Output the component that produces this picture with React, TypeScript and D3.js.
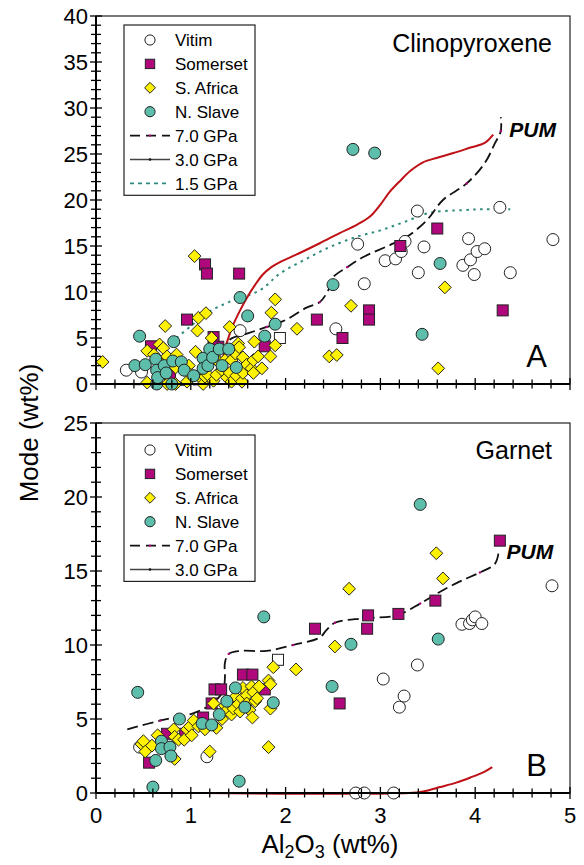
import React from "react";
import * as d3 from "d3";

type P = [number, number];

// ---------- Panel A: Clinopyroxene ----------
const cpxVitim: P[] = [
  [0.32, 1.5], [0.48, 1.3], [1.52, 5.8], [2.53, 6.0], [2.76, 15.2], [2.83, 10.9], [3.05, 13.4],
  [3.16, 13.6], [3.22, 14.4], [3.26, 15.5], [3.39, 18.8], [3.40, 12.1], [3.46, 14.9], [3.87, 12.9],
  [3.93, 15.8], [3.95, 13.5], [3.99, 11.9], [4.02, 14.4], [4.10, 14.7], [4.26, 19.2], [4.37, 12.1],
  [4.82, 15.7],
];
const cpxOpenSquare: P[] = [[1.94, 5.0]];
const cpxSomerset: P[] = [
  [0.58, 4.1], [0.78, 1.0], [0.96, 7.0], [1.15, 13.0], [1.17, 12.0], [1.24, 5.1], [1.29, 4.05],
  [1.51, 12.0], [1.78, 4.1], [2.33, 7.0], [2.60, 5.0], [2.88, 8.0], [2.88, 7.0], [3.21, 15.0],
  [3.60, 16.9], [4.29, 8.0],
];
const cpxSAfrica: P[] = [
  [0.07, 2.4], [0.54, 3.6], [0.54, 0.15], [0.61, 3.2], [0.67, 4.3], [0.71, 3.9], [0.73, 6.3],
  [0.75, 2.6], [0.75, 3.0], [0.75, 0], [0.84, 1.8], [0.84, 0], [0.85, 3.2], [0.96, 0.25], [0.98, 2.0],
  [1.0, 1.0], [1.05, 3.5], [1.07, 5.8], [1.08, 7.2], [1.11, 0.6], [1.13, 0], [1.15, 0.8], [1.16, 7.7],
  [1.18, 1.0], [1.22, 5.0], [1.24, 0.35], [1.25, 3.0], [1.27, 1.0], [1.30, 2.3], [1.33, 1.5],
  [1.36, 2.6], [1.38, 0.7], [1.41, 6.2], [1.41, 1.2], [1.43, 2.6], [1.43, 0.25], [1.47, 3.3],
  [1.48, 0.9], [1.50, 4.4], [1.51, 4.0], [1.54, 0.25], [1.55, 2.9], [1.55, 1.2], [1.59, 2.1],
  [1.64, 1.7], [1.66, 2.6], [1.66, 1.2], [1.67, 4.6], [1.71, 3.0], [1.75, 1.7], [1.84, 3.0],
  [1.85, 7.75], [1.89, 9.2], [1.89, 4.2], [2.12, 6.0], [2.46, 3.0], [2.54, 3.15], [2.69, 8.5],
  [3.61, 1.7], [3.68, 10.5], [1.04, 13.9],
];
const cpxNSlave: P[] = [
  [0.41, 2.0], [0.46, 5.2], [0.52, 2.1], [0.63, 2.7], [0.64, 1.5], [0.64, 0], [0.65, 0.7], [0.72, 2.0],
  [0.74, 1.2], [0.80, 0], [0.81, 2.5], [0.82, 4.6], [0.90, 2.4], [0.93, 1.5], [1.03, 0.9], [1.13, 2.8],
  [1.13, 1.7], [1.18, 2.0], [1.20, 3.8], [1.23, 2.9], [1.30, 3.8], [1.33, 2.0], [1.40, 3.8],
  [1.48, 1.8], [1.52, 9.4], [1.60, 7.4], [1.78, 5.2], [1.89, 6.5], [2.50, 10.8], [2.71, 25.5],
  [2.94, 25.1], [3.44, 5.4], [3.63, 13.1],
];
const cpx70: P[] = [
  [0.35, 0], [1.1, 0], [1.22, 0.4], [1.3, 2.0], [1.36, 4.0], [1.42, 4.9], [1.6, 5.5], [1.8, 6.2],
  [2.01, 7.0], [2.22, 8.3], [2.36, 8.9], [2.45, 10.2], [2.5, 11.6], [2.65, 12.7], [2.82, 13.8],
  [3.1, 15.1], [3.28, 16.0], [3.49, 17.8], [3.66, 20.0], [3.91, 21.8], [4.1, 24.0], [4.21, 26.2],
  [4.27, 27.5], [4.27, 29.0],
];
const cpx30: P[] = [
  [1.2, 0], [1.28, 0.8], [1.33, 2.5], [1.38, 4.5], [1.45, 6.5], [1.52, 8.0], [1.6, 9.5], [1.68, 10.8],
  [1.76, 11.9], [1.85, 12.7], [1.95, 13.3], [2.1, 14.0], [2.36, 15.3], [2.57, 16.4], [2.75, 17.3],
  [2.89, 18.2], [3.0, 19.5], [3.1, 20.9], [3.21, 22.1], [3.32, 23.2], [3.45, 24.1], [3.6, 24.6],
  [3.77, 25.1], [3.95, 25.7], [4.1, 26.2], [4.19, 27.1],
];
const cpx15: P[] = [
  [0.85, 5.0], [1.0, 6.3], [1.17, 7.7], [1.4, 8.9], [1.73, 10.2], [1.94, 12.0], [2.2, 13.5],
  [2.47, 14.9], [2.75, 16.0], [3.0, 16.7], [3.25, 17.6], [3.52, 18.6], [3.87, 18.9], [4.1, 19.0],
  [4.37, 19.0],
];

// ---------- Panel B: Garnet ----------
const grtVitim: P[] = [
  [1.17, 2.45], [0.46, 3.1], [2.74, 0], [2.83, 0], [3.14, 0], [3.03, 7.7], [3.20, 5.8], [3.25, 6.55],
  [3.39, 8.65], [3.86, 11.4], [3.94, 11.45], [3.97, 11.7], [4.0, 11.9], [4.07, 11.45], [4.81, 14.0],
];
const grtOpenSquare: P[] = [[1.92, 9.0]];
const grtSomerset: P[] = [
  [0.56, 2.05], [0.75, 4.0], [0.94, 4.0], [1.13, 5.1], [1.22, 6.05], [1.25, 7.0], [1.32, 7.0],
  [1.55, 8.0], [1.65, 8.0], [1.78, 7.0], [2.31, 11.1], [2.57, 6.05], [2.86, 11.1], [2.87, 12.0],
  [3.19, 12.1], [3.58, 13.0], [4.26, 17.05],
];
const grtSAfrica: P[] = [
  [0.48, 3.3], [0.50, 3.5], [0.52, 2.8], [0.59, 3.2], [0.65, 3.9], [0.82, 4.3], [0.83, 3.8],
  [0.83, 2.3], [0.87, 3.6], [0.93, 3.6], [0.96, 4.3], [0.99, 4.5], [1.01, 3.9], [1.03, 4.9],
  [1.08, 4.5], [1.15, 4.3], [1.20, 2.8], [1.24, 6.05], [1.27, 4.4], [1.33, 5.0], [1.36, 5.9],
  [1.38, 5.6], [1.43, 5.3], [1.45, 5.7], [1.47, 6.5], [1.50, 6.0], [1.52, 5.5], [1.54, 6.4],
  [1.55, 7.1], [1.59, 6.6], [1.59, 6.05], [1.62, 5.6], [1.64, 7.2], [1.65, 5.1], [1.66, 6.8],
  [1.68, 6.2], [1.70, 6.4], [1.72, 7.2], [1.82, 7.6], [1.82, 3.1], [1.84, 7.35], [1.84, 5.7],
  [1.87, 8.5], [2.11, 8.35], [2.52, 9.9], [2.67, 13.8], [3.59, 16.2], [3.66, 14.5],
];
const grtNSlave: P[] = [
  [0.44, 6.8], [0.60, 0.4], [0.63, 2.2], [0.69, 3.5], [0.69, 3.0], [0.78, 3.1], [0.79, 2.5],
  [0.88, 5.0], [1.12, 4.7], [1.22, 4.6], [1.30, 5.3], [1.38, 6.2], [1.47, 7.1], [1.51, 0.8],
  [1.57, 5.8], [1.77, 11.9], [1.87, 6.1], [2.49, 7.2], [2.69, 10.05], [3.42, 19.5], [3.61, 10.4],
];
const grt70: P[] = [
  [0.33, 4.3], [0.68, 4.9], [1.03, 5.4], [1.24, 6.1], [1.34, 6.9], [1.36, 7.8], [1.36, 8.8],
  [1.4, 9.4], [1.52, 9.6], [1.8, 9.6], [2.08, 10.0], [2.36, 10.5], [2.43, 11.0], [2.52, 11.5],
  [2.82, 11.8], [3.17, 12.0], [3.42, 12.8], [3.63, 13.6], [3.84, 14.3], [4.05, 14.9], [4.21, 15.5],
  [4.25, 16.4],
];
const grt30: P[] = [
  [1.13, 0], [3.3, 0], [3.45, 0.1], [3.63, 0.4], [3.8, 0.7], [3.95, 1.05], [4.1, 1.45], [4.18, 1.75],
];

const xTicks = [0, 1, 2, 3, 4, 5];
const cpxYTicks = [0, 5, 10, 15, 20, 25, 30, 35, 40];
const grtYTicks = [0, 5, 10, 15, 20, 25];
const legendLabelsA = ["Vitim", "Somerset", "S. Africa", "N. Slave", "7.0 GPa", "3.0 GPa", "1.5 GPa"];
const legendLabelsB = ["Vitim", "Somerset", "S. Africa", "N. Slave", "7.0 GPa", "3.0 GPa"];

const FONT = "'Liberation Sans', Arial, Helvetica, sans-serif";
const C_MAG = "#B0087C";
const C_YEL = "#FFF200";
const C_TEAL = "#5DBFAB";
const C_RED = "#BE1015";
const C_TEALLINE = "#2E8B7C";

function Marker({ kind, x, y, s = 1 }: { kind: string; x: number; y: number; s?: number }) {
  const st = { stroke: "#222", strokeWidth: 1 };
  if (kind === "circle") return <circle cx={x} cy={y} r={6 * s} fill="#fff" {...st} />;
  if (kind === "teal") return <circle cx={x} cy={y} r={6 * s} fill={C_TEAL} {...st} />;
  if (kind === "square") {
    const h = 5.5 * s;
    return <rect x={x - h} y={y - h} width={2 * h} height={2 * h} fill={C_MAG} {...st} />;
  }
  if (kind === "osquare") {
    const h = 5.5 * s;
    return <rect x={x - h} y={y - h} width={2 * h} height={2 * h} fill="#fff" {...st} />;
  }
  const d = 6.4 * s;
  return (
    <path d={`M${x},${y - d}L${x + d},${y}L${x},${y + d}L${x - d},${y}Z`} fill={C_YEL} {...st} />
  );
}

function Panel({
  top, bottom, yMax, yTicks, vitim, openSq, somerset, safrica, nslave, l70, l30, l15,
  title, letter, legend, legTop, pum, showXLabels,
}: any) {
  const x = d3.scaleLinear().domain([0, 5]).range([96, 570]);
  const y = d3.scaleLinear().domain([0, yMax]).range([bottom, top]);
  const line = d3
    .line<P>()
    .x((d) => x(d[0]))
    .y((d) => y(d[1]))
    .curve(d3.curveCatmullRom.alpha(0.5));
  const minorY = d3.range(0, yMax + 0.001, 1);
  const minorX = d3.range(0, 5.001, 0.2);
  const rowH = 23.9;
  const legX = 124;
  const legW = 131;
  const legH = legend.length * rowH + 3;
  return (
    <g>
      <rect x={96} y={top} width={474} height={bottom - top} fill="none" stroke="#222" strokeWidth={1.2} />
      {l15 && (
        <path d={line(l15) || ""} fill="none" stroke={C_TEALLINE} strokeWidth={2} strokeDasharray="2.5,4.5" />
      )}
      <path d={line(l30) || ""} fill="none" stroke={C_RED} strokeWidth={2} />
      <path d={line(l70) || ""} fill="none" stroke="#111" strokeWidth={1.8} strokeDasharray="11,5" />
      {l70.filter((_: P, i: number) => i % 3 === 1).map((d: P, i: number) => (
        <circle key={"m" + i} cx={x(d[0])} cy={y(d[1])} r={1.2} fill={C_MAG} />
      ))}
      {vitim.map((d: P, i: number) => <Marker key={"v" + i} kind="circle" x={x(d[0])} y={y(d[1])} />)}
      {openSq.map((d: P, i: number) => <Marker key={"o" + i} kind="osquare" x={x(d[0])} y={y(d[1])} />)}
      {somerset.map((d: P, i: number) => <Marker key={"s" + i} kind="square" x={x(d[0])} y={y(d[1])} />)}
      {safrica.map((d: P, i: number) => <Marker key={"a" + i} kind="diamond" x={x(d[0])} y={y(d[1])} />)}
      {nslave.map((d: P, i: number) => <Marker key={"n" + i} kind="teal" x={x(d[0])} y={y(d[1])} />)}
      <line x1={96} x2={96} y1={top} y2={bottom} stroke="#000" strokeWidth={2} />
      <line x1={96} x2={570} y1={bottom} y2={bottom} stroke="#000" strokeWidth={2} />
      {minorY.map((v: number) => {
        const major = v % 5 === 0;
        return (
          <line key={"yt" + v} x1={major ? 90 : 91} x2={major ? 102 : 101} y1={y(v)} y2={y(v)} stroke="#000" strokeWidth={1.3} />
        );
      })}
      {minorX.map((v: number, i: number) => {
        const major = i % 5 === 0;
        return (
          <line key={"xt" + i} x1={x(v)} x2={x(v)} y1={bottom - (major ? 6 : 4.5)} y2={bottom + (major ? 6 : 4.5)} stroke="#000" strokeWidth={1.3} />
        );
      })}
      {yTicks.map((v: number) => (
        <text key={"yl" + v} x={88} y={y(v)} dy="0.36em" textAnchor="end" fontSize={22} fontFamily={FONT} fill="#000">
          {v}
        </text>
      ))}
      {showXLabels &&
        xTicks.map((v: number) => (
          <text key={"xl" + v} x={x(v)} y={bottom + 30} textAnchor="middle" fontSize={22} fontFamily={FONT} fill="#000">
            {v}
          </text>
        ))}
      <text x={552} y={top + 36} textAnchor="end" fontSize={25} fontFamily={FONT} fill="#000">{title}</text>
      <text x={547} y={bottom - 17} textAnchor="end" fontSize={31} fontFamily={FONT} fill="#000">{letter}</text>
      <text x={x(pum[0])} y={y(pum[1])} fontSize={21} fontWeight="bold" fontStyle="italic" fontFamily={FONT} fill="#000">PUM</text>
      <rect x={legX} y={legTop} width={legW} height={legH} fill="#fff" stroke="#222" strokeWidth={1.2} />
      {legend.map((lab: string, i: number) => {
        const cy = legTop + 15 + i * rowH;
        const sx = legX + 26;
        let sym: any = null;
        if (i === 0) sym = <Marker kind="circle" x={sx} y={cy} s={0.85} />;
        if (i === 1) sym = <Marker kind="square" x={sx} y={cy} s={0.85} />;
        if (i === 2) sym = <Marker kind="diamond" x={sx} y={cy} s={0.85} />;
        if (i === 3) sym = <Marker kind="teal" x={sx} y={cy} s={0.85} />;
        if (i === 4)
          sym = (
            <g>
              <line x1={legX + 6} x2={legX + 46} y1={cy} y2={cy} stroke="#111" strokeWidth={1.8} strokeDasharray="10,6" />
              <circle cx={sx} cy={cy} r={1.2} fill={C_MAG} />
            </g>
          );
        if (i === 5)
          sym = (
            <g>
              <line x1={legX + 6} x2={legX + 46} y1={cy} y2={cy} stroke="#444" strokeWidth={1.3} />
              <circle cx={sx} cy={cy} r={1.3} fill="#111" />
            </g>
          );
        if (i === 6)
          sym = <line x1={legX + 6} x2={legX + 46} y1={cy} y2={cy} stroke={C_TEALLINE} strokeWidth={1.8} strokeDasharray="4,4" />;
        return (
          <g key={"lg" + i}>
            {sym}
            <text x={legX + 51} y={cy} dy="0.36em" fontSize={17} fontFamily={FONT} fill="#000">{lab}</text>
          </g>
        );
      })}
    </g>
  );
}

export default function App() {
  return (
    <svg width={584} height={865} style={{ position: "absolute", left: 0, top: 0, background: "#fff" }}>
      <rect width={584} height={865} fill="#fff" />
      <Panel
        top={16} bottom={384} yMax={40} yTicks={cpxYTicks}
        vitim={cpxVitim} openSq={cpxOpenSquare} somerset={cpxSomerset} safrica={cpxSAfrica} nslave={cpxNSlave}
        l70={cpx70} l30={cpx30} l15={cpx15}
        title="Clinopyroxene" letter="A" legend={legendLabelsA} legTop={25} pum={[4.36, 26.9]} showXLabels={false}
      />
      <Panel
        top={423} bottom={793} yMax={25} yTicks={grtYTicks}
        vitim={grtVitim} openSq={grtOpenSquare} somerset={grtSomerset} safrica={grtSAfrica} nslave={grtNSlave}
        l70={grt70} l30={grt30} l15={null}
        title="Garnet" letter="B" legend={legendLabelsB} legTop={435} pum={[4.33, 15.8]} showXLabels={true}
      />
      <text transform="translate(38,433) rotate(-90)" textAnchor="middle" fontSize={26} fontFamily={FONT} fill="#000">
        Mode (wt%)
      </text>
      <text x={330} y={853} textAnchor="middle" fontSize={26} fontFamily={FONT} fill="#000">
        Al<tspan fontSize={18} dy={5}>2</tspan><tspan dy={-5}>O</tspan><tspan fontSize={18} dy={5}>3</tspan><tspan dy={-5}> (wt%)</tspan>
      </text>
    </svg>
  );
}
